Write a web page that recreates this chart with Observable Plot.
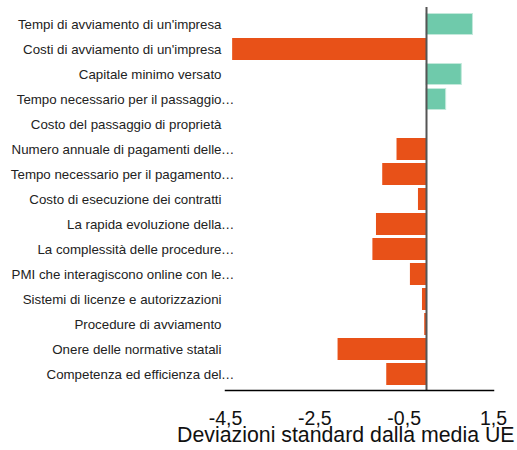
<!DOCTYPE html>
<html>
<head>
<meta charset="utf-8">
<script src="https://cdn.jsdelivr.net/npm/d3@7"></script>
<script src="https://cdn.jsdelivr.net/npm/@observablehq/plot@0.6"></script>
<style>
  body { margin: 0; background: #fff; }
  svg { font-family: "Liberation Sans", Arial, sans-serif; }
</style>
</head>
<body>
<div id="chart"></div>
<script>
const categories = [
  "Tempi di avviamento di un'impresa",
  "Costi di avviamento di un'impresa",
  "Capitale minimo versato",
  "Tempo necessario per il passaggio…",
  "Costo del passaggio di proprietà",
  "Numero annuale di pagamenti delle…",
  "Tempo necessario per il pagamento…",
  "Costo di esecuzione dei contratti",
  "La rapida evoluzione della…",
  "La complessità delle procedure…",
  "PMI che interagiscono online con le…",
  "Sistemi di licenze e autorizzazioni",
  "Procedure di avviamento",
  "Onere delle normative statali",
  "Competenza ed efficienza del…"
];
const values = [1.04, -4.34, 0.79, 0.44, 0.0, -0.66, -0.98, -0.18, -1.12, -1.2, -0.36, -0.09, -0.04, -1.98, -0.89];
const xTicks = [-4.5, -2.5, -0.5, 1.5];
const xLabel = "Deviazioni standard dalla media UE";

const data = categories.map((c, i) => ({category: c, value: values[i]}));
const positive = data.filter(d => d.value > 0);
const negative = data.filter(d => d.value < 0);
const truncated = categories.filter(c => c.endsWith("…"));
const strip = c => c.endsWith("…") ? c.slice(0, -1) : c;
const fmt = d => d.toFixed(1).replace(".", ",");

const chart = Plot.plot({
  width: 517,
  height: 450,
  marginLeft: 225,
  marginRight: 24,
  marginTop: 7,
  marginBottom: 60,
  style: {fontFamily: "'Liberation Sans', Arial, sans-serif", color: "#222"},
  x: {domain: [-4.5, 1.5]},
  y: {domain: categories, paddingInner: 0.12, paddingOuter: 0.06},
  marks: [
    Plot.barX(positive, {x: "value", y: "category", fill: "#6fcaab", stroke: "#c3e9db", strokeWidth: 1, insetTop: 0.5, insetBottom: 0.5}),
    Plot.barX(negative, {x: "value", y: "category", fill: "#e85118"}),
    Plot.ruleX([0], {stroke: "#555", strokeWidth: 2}),
    Plot.frame({anchor: "bottom", stroke: "#000", strokeWidth: 1.5}),
    Plot.axisX({ticks: xTicks, tickSize: 0, tickPadding: 21, tickFormat: fmt, fontSize: 19.5, label: null, fill: "#111"}),
    Plot.axisY({tickSize: 0, tickPadding: 4, tickFormat: strip, fontSize: 13.3, label: null, fill: "#222"}),
    Plot.text(truncated, {y: d => d, text: () => "…", frameAnchor: "left", textAnchor: "start", dx: -4.5, fontSize: 13.3, fill: "#222"}),
    Plot.text([xLabel], {frameAnchor: "bottom-right", textAnchor: "end", dx: 21, dy: 51, fontSize: 21.3, fill: "#111"})
  ]
});
document.getElementById("chart").append(chart);
</script>
</body>
</html>
